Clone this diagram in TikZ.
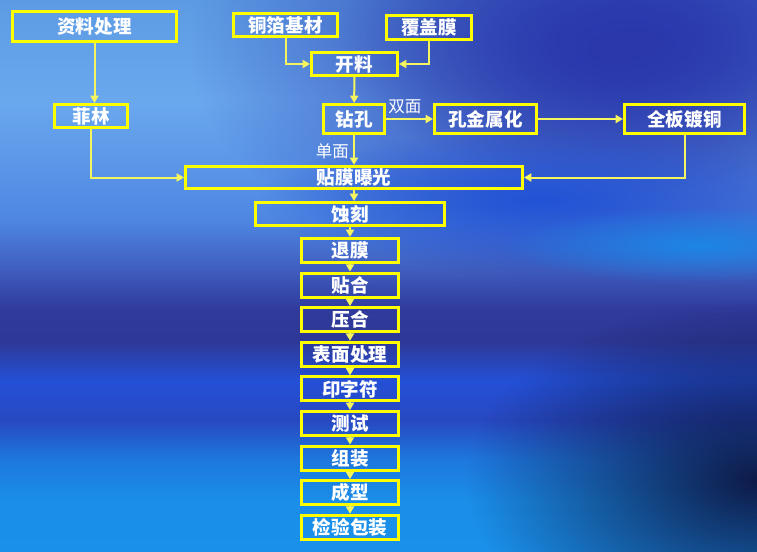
\documentclass[tikz,border=0pt]{standalone}
\usepackage{fontspec}
\newfontfamily\cjk{Noto Sans CJK SC}
\usetikzlibrary{
  arrows.meta,
  positioning,
  fadings
}
\newcommand{\pxu}{0.75pt}
\definecolor{BoxYellow}{RGB}{255,255,0}
\definecolor{LinkYellow}{RGB}{245,245,95}
\definecolor{SkyA}{RGB}{92,154,227}
\definecolor{SkyB}{RGB}{106,168,238}
\definecolor{SkyC}{RGB}{78,134,226}
\definecolor{SkyD}{RGB}{63,93,190}
\definecolor{SkyE}{RGB}{47,58,156}
\definecolor{SkyF}{RGB}{46,56,150}
\definecolor{SkyG}{RGB}{36,80,214}
\definecolor{SkyH}{RGB}{40,72,194}
\definecolor{SkyI}{RGB}{30,120,222}
\definecolor{SkyJ}{RGB}{26,142,232}
\definecolor{SkyK}{RGB}{26,144,234}
\definecolor{SkyDeep}{RGB}{42,56,172}
\definecolor{SkyMid}{RGB}{34,82,214}
\definecolor{SkyCyan}{RGB}{28,134,230}
\definecolor{SkyNight}{RGB}{14,26,72}
\pgfdeclareverticalshading{bgsky}{100bp}{
  color(0bp)=(SkyK); color(25bp)=(SkyK); color(29.6bp)=(SkyJ);
  color(33.3bp)=(SkyI); color(36.9bp)=(SkyH); color(40.5bp)=(SkyG);
  color(44.1bp)=(SkyF); color(46.9bp)=(SkyE); color(50.5bp)=(SkyD);
  color(55bp)=(SkyC); color(65.9bp)=(SkyB); color(75bp)=(SkyA);
  color(100bp)=(SkyA)}
\tikzfading[name=softspot, inner color=transparent!0, outer color=transparent!100]
\tikzset{
  stepbox/.style={draw=BoxYellow,line width=2.25pt,inner sep=0pt,text=white,
    minimum height=24*\pxu,font=\cjk\bfseries\fontsize{13.9pt}{16pt}\selectfont},
  chainbox/.style={stepbox,minimum width=97*\pxu},
  sidetext/.style={text=white,inner sep=1pt,font=\cjk\fontsize{12.4pt}{14pt}\selectfont},
  link/.style={-{Triangle[length=5.5pt,width=6pt]},line width=1.5pt,draw=LinkYellow}
}

\begin{document}
\begin{tikzpicture}[x=\pxu,y=-\pxu,node distance=7.6*\pxu]
% background
\useasboundingbox (0,0) rectangle (757,551);
\fill[shading=bgsky] (0,0) rectangle (757,551);
\begin{scope}
\clip (0,0) rectangle (757,551);
\fill[SkyDeep,path fading=softspot] (610,50) ellipse [x radius=420, y radius=240];
\fill[SkyDeep,path fading=softspot] (640,40) ellipse [x radius=300, y radius=150];
\fill[SkyMid,path fading=softspot] (540,200) ellipse [x radius=280, y radius=70];
\fill[SkyCyan,path fading=softspot] (700,245) ellipse [x radius=200, y radius=38];
\fill[SkyNight,path fading=softspot] (757,480) ellipse [x radius=290, y radius=180];
\end{scope}

% top part
\node[stepbox, minimum width=164*\pxu, minimum height=30*\pxu] (docprep) at (94.5,26.5) {资料处理};
\node[stepbox, minimum width=104*\pxu, minimum height=23*\pxu] (foil) at (285.5,25) {铜箔基材};
\node[stepbox, minimum width=85*\pxu] (cover) at (429,27.5) {覆盖膜};
\node[stepbox, minimum width=86*\pxu, minimum height=23*\pxu] (cut) at (354.5,64) {开料};
\node[stepbox, minimum width=73*\pxu, minimum height=23*\pxu] (film) at (91,116) {菲林};
\node[stepbox, minimum width=61*\pxu, minimum height=29*\pxu] (drill) at (354,119) {钻孔};
\node[stepbox, minimum width=102*\pxu, minimum height=29*\pxu] (pth) at (485.5,119) {孔金属化};
\node[stepbox, minimum width=120*\pxu, minimum height=29*\pxu] (plate) at (684.5,119) {全板镀铜};
\node[stepbox, minimum width=337*\pxu, minimum height=22*\pxu] (expose) at (354,177.5) {贴膜曝光};
\node[stepbox, minimum width=189*\pxu, minimum height=23*\pxu] (etch) at (350,214) {蚀刻};

% main column
\node[chainbox, below=10*\pxu of etch] (strip) {退膜};
\node[chainbox, below=of strip] (bond) {贴合};
\node[chainbox, below=of bond] (press) {压合};
\node[chainbox, below=of press] (finish) {表面处理};
\node[chainbox, below=of finish] (print) {印字符};
\node[chainbox, below=of print] (test) {测试};
\node[chainbox, below=of test] (assy) {组装};
\node[chainbox, below=of assy] (shape) {成型};
\node[chainbox, below=of shape] (pack) {检验包装};

\draw[link] (docprep.south) -- (docprep.south |- film.north);
\draw[link] (film.south) |- (expose.west);
\draw[link] (foil.south) |- (cut.west);
\draw[link] (cover.south) |- (cut.east);
\draw[link] (cut) -- (drill);
\draw[link] (drill) -- node[sidetext, pos=0.4, above=2pt] (dual) {双面} (pth);
\draw[link] (pth) -- (plate);
\draw[link] (plate.south) |- (expose.east);
\draw[link] (drill) -- node[sidetext, pos=0.55, left=2pt] (single) {单面} (expose);
\foreach \a/\b in {expose/etch,etch/strip,strip/bond,bond/press,press/finish,
  finish/print,print/test,test/assy,assy/shape,shape/pack}
  \draw[link] (\a) -- (\a |- \b.north);
\end{tikzpicture}
\end{document}
